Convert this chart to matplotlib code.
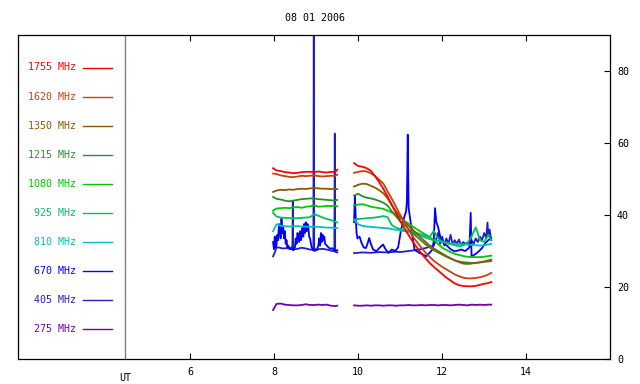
import numpy as np
import matplotlib
matplotlib.use("Agg")
from matplotlib import pyplot as plt

plt.rcParams['font.family'] = ['DejaVu Sans Mono']

title = "08 01 2006"
freqs = ["1755", "1620", "1350", "1215", "1080", "925", "810", "670", "405", "275"]
colors = ["#ff0000", "#c8400c", "#8b5a00", "#2e8b2e", "#00c800",
          "#00c060", "#00c0c0", "#0000ff", "#2020c0", "#7000b0"]

# common time grids (UT hours) for the smooth channels
t1 = [7.97, 8.05, 8.15, 8.25, 8.35, 8.45, 8.55, 8.65, 8.75, 8.85, 8.95,
      9.05, 9.15, 9.25, 9.35, 9.45, 9.5]
t2 = [9.9, 10.0, 10.1, 10.2, 10.3, 10.4, 10.5, 10.6, 10.7, 10.8, 10.9,
      11.0, 11.1, 11.2, 11.3, 11.4, 11.5, 11.6, 11.7, 11.8, 11.9, 12.0,
      12.1, 12.2, 12.3, 12.4, 12.5, 12.6, 12.7, 12.8, 12.9, 13.0, 13.1, 13.17]

f1755_a = [53.0, 52.4, 52.2, 51.9, 51.8, 51.6, 51.7, 51.9, 52.0, 52.0, 51.9, 52.1, 51.9, 51.8, 52.0, 51.9, 52.6]
f1755_b = [54.4, 53.6, 53.4, 53.0, 52.3, 50.8, 49.1, 47.2, 45.1, 42.8, 40.5, 38.3, 36.3, 34.4, 32.6, 30.9, 29.4,
           28.0, 26.7, 25.6, 24.6, 23.6, 22.6, 21.8, 21.0, 20.5, 20.3, 20.2, 20.2, 20.3, 20.6, 20.9, 21.1, 21.4]
f1620_a = [51.5, 51.4, 51.0, 50.8, 50.6, 50.5, 50.7, 50.9, 50.8, 50.9, 51.0, 50.8, 50.7, 50.8, 50.9, 50.9, 51.2]
f1620_b = [51.7, 52.0, 52.2, 52.1, 51.6, 50.8, 49.8, 48.7, 46.5, 44.5, 42.3, 40.0, 38.0, 36.0, 34.0, 32.5, 31.0,
           29.6, 28.4, 27.3, 26.4, 25.6, 24.9, 24.2, 23.5, 23.0, 22.6, 22.4, 22.4, 22.5, 22.7, 23.0, 23.5, 23.9]
f1350_a = [46.4, 46.8, 47.0, 46.9, 47.1, 47.0, 47.2, 47.3, 47.2, 47.4, 47.5, 47.4, 47.3, 47.3, 47.2, 47.3, 47.2]
f1350_b = [47.9, 48.4, 48.7, 48.6, 48.1, 47.6, 46.9, 46.0, 44.6, 42.7, 41.0, 39.5, 38.2, 37.0, 35.9, 34.8, 33.6,
           32.6, 31.5, 30.7, 30.0, 29.3, 28.6, 28.0, 27.4, 26.9, 26.5, 26.4, 26.5, 26.7, 26.9, 27.1, 27.4, 27.6]
f1215_a = [45.0, 44.5, 44.3, 44.0, 43.8, 44.0, 44.2, 44.4, 44.5, 44.6, 44.6, 44.4, 44.3, 44.2, 44.1, 44.0, 44.2]
f1215_b = [45.4, 45.9, 45.2, 44.8, 44.6, 44.3, 43.9, 43.4, 42.6, 41.0, 39.6, 38.3, 37.2, 36.1, 35.0, 33.9, 32.9,
           31.9, 31.0, 30.2, 29.6, 29.0, 28.4, 27.9, 27.4, 27.1, 26.9, 26.8, 26.7, 26.7, 26.8, 27.0, 27.1, 27.2]
f1080_a = [41.2, 41.8, 41.9, 42.0, 41.9, 42.1, 42.2, 42.0, 42.3, 42.4, 42.7, 42.3, 42.4, 42.5, 42.5, 42.6, 42.4]
f1080_b = [42.6, 42.9, 43.0, 42.7, 42.3, 42.1, 41.9, 41.7, 41.2, 40.7, 40.0, 39.2, 38.3, 37.6, 36.8, 36.0, 35.3,
           34.6, 33.8, 33.0, 32.0, 30.9, 30.3, 29.7, 29.2, 28.9, 28.6, 28.4, 28.3, 28.3, 28.3, 28.4, 28.6, 28.7]
f925_a = [40.6, 39.6, 39.3, 39.2, 39.2, 39.1, 39.1, 39.2, 39.3, 39.4, 40.2, 39.8, 39.3, 38.9, 38.6, 38.2, 37.9]
f925_b = [38.7, 38.9, 39.0, 39.1, 39.2, 39.3, 39.5, 39.7, 39.4, 37.2, 36.5, 36.1, 35.8, 35.6, 35.4, 35.0, 34.6,
          34.2, 33.9, 35.6, 33.5, 32.6, 32.2, 32.0, 31.6, 31.3, 31.6, 32.2, 34.0, 36.6, 33.0, 32.5, 34.5, 33.1]
f810_a = [35.5, 37.4, 37.0, 36.9, 36.8, 36.9, 36.9, 36.8, 36.8, 36.7, 36.8, 36.7, 36.6, 36.5, 36.5, 36.4, 36.4]
f810_b = [38.7, 37.4, 37.0, 36.8, 36.7, 36.6, 36.5, 36.4, 36.3, 36.1, 35.9, 35.7, 35.5, 35.3, 35.0, 34.6, 34.2,
          33.7, 33.3, 33.0, 32.8, 32.6, 32.3, 32.1, 32.0, 31.9, 31.8, 31.8, 31.7, 31.6, 31.5, 31.6, 31.8, 32.0]
f275_a = [13.6, 15.3, 15.4, 15.1, 15.0, 14.9, 14.9, 15.0, 15.2, 15.0, 15.0, 15.1, 15.0, 15.1, 14.8, 14.7, 14.8]
f275_b = [14.9, 14.8, 14.8, 14.9, 14.8, 14.9, 14.9, 14.8, 14.9, 14.9, 14.8, 14.9, 14.9, 15.0, 14.9, 14.9, 15.0,
          14.9, 15.0, 15.0, 14.9, 15.0, 15.0, 14.9, 15.0, 15.1, 15.0, 14.9, 15.1, 15.0, 15.1, 15.0, 15.1, 15.1]

# noisy channels have their own time stamps
t670_a = [7.97, 7.99, 8.01, 8.03, 8.05, 8.07, 8.09, 8.11, 8.13, 8.15, 8.17, 8.19, 8.21, 8.23, 8.25,
          8.27, 8.29, 8.31, 8.33, 8.37, 8.41, 8.45, 8.49, 8.51, 8.53, 8.55, 8.57, 8.59, 8.61, 8.63,
          8.65, 8.67, 8.69, 8.71, 8.73, 8.75, 8.77, 8.79, 8.81, 8.83, 8.85, 8.89, 8.93, 8.97, 9.01,
          9.05, 9.07, 9.09, 9.11, 9.13, 9.15, 9.17, 9.19, 9.21, 9.25, 9.29, 9.33, 9.37, 9.41, 9.45, 9.5]
f670_a = [32.5, 30.5, 34.0, 31.0, 31.5, 34.5, 33.0, 37.5, 36.5, 33.5, 39.0, 35.0, 37.0, 33.5, 35.5,
          32.0, 33.0, 31.0, 31.5, 30.5, 31.0, 30.2, 31.0, 33.5, 32.0, 35.0, 34.5, 32.5, 35.5, 33.0,
          34.0, 36.5, 34.0, 37.5, 35.0, 38.0, 35.5, 37.5, 36.5, 34.0, 33.5, 31.0, 30.2, 30.5, 30.3,
          31.5, 33.5, 31.5, 35.0, 32.5, 34.5, 33.0, 34.0, 32.0, 31.5, 31.0, 30.6, 30.8, 30.4, 30.0, 30.2]
t670_b = [9.9, 9.92, 9.94, 9.96, 9.98, 10.03, 10.08, 10.13, 10.18, 10.22, 10.26, 10.3, 10.35, 10.43,
          10.5, 10.59, 10.65, 10.72, 10.8, 10.88, 10.95, 11.02, 11.1, 11.14, 11.16, 11.18, 11.2, 11.24,
          11.3, 11.34, 11.45, 11.55, 11.62, 11.7, 11.77, 11.8, 11.83, 11.86, 11.9, 11.97, 12.05, 12.13,
          12.2, 12.3, 12.4, 12.45, 12.55, 12.65, 12.68, 12.7, 12.8, 12.87, 12.95, 13.03, 13.1, 13.17]
f670_b = [38.0, 45.2, 39.0, 35.0, 33.5, 34.0, 32.2, 31.0, 30.8, 32.0, 33.6, 32.0, 30.5, 29.9,
          30.8, 31.8, 30.5, 29.5, 30.4, 30.0, 31.0, 35.9, 39.6, 41.0, 44.0, 62.3, 42.0, 38.7,
          33.5, 30.4, 29.5, 29.0, 28.5, 29.5, 30.4, 33.0, 41.9, 38.0, 36.8, 33.1, 32.0, 31.3,
          30.5, 29.9, 30.2, 30.4, 30.0, 31.0, 40.6, 28.5, 29.2, 29.9, 30.8, 32.2, 33.0, 33.6]

t405_a = [7.97, 8.01, 8.05, 8.1, 8.2, 8.3, 8.4, 8.43, 8.44, 8.45, 8.55, 8.65, 8.75, 8.85, 8.93,
          8.94, 8.95, 9.05, 9.15, 9.25, 9.35, 9.43, 9.44, 9.45, 9.5]
f405_a = [28.5, 29.6, 30.9, 31.0, 30.7, 30.8, 30.5, 30.6, 43.8, 30.4, 30.6, 30.9, 30.7, 30.4, 30.3,
          95.0, 30.0, 30.5, 30.6, 30.4, 30.1, 29.9, 62.6, 29.8, 29.6]
t405_b = [9.9, 10.1, 10.3, 10.5, 10.7, 10.9, 11.0, 11.2, 11.4, 11.6, 11.8, 11.85, 11.9, 11.95, 12.0,
          12.05, 12.1, 12.15, 12.2, 12.25, 12.3, 12.35, 12.4, 12.45, 12.5, 12.55, 12.6, 12.65, 12.7,
          12.75, 12.8, 12.85, 12.9, 12.95, 13.0, 13.05, 13.08, 13.1, 13.13, 13.17]
f405_b = [29.4, 29.6, 29.5, 29.7, 29.6, 29.8, 29.7, 30.0, 30.3, 30.8, 31.5, 33.0, 35.0, 32.0, 34.0,
          31.5, 33.5, 32.0, 34.5, 31.8, 33.0, 32.0, 33.2, 31.5, 32.5, 32.0, 32.3, 31.5, 33.0,
          32.0, 33.5, 32.5, 34.0, 33.0, 35.0, 33.5, 37.9, 34.0, 36.0, 33.0]

series = {
    "1755": (t1, f1755_a, t2, f1755_b),
    "1620": (t1, f1620_a, t2, f1620_b),
    "1350": (t1, f1350_a, t2, f1350_b),
    "1215": (t1, f1215_a, t2, f1215_b),
    "1080": (t1, f1080_a, t2, f1080_b),
    "925": (t1, f925_a, t2, f925_b),
    "810": (t1, f810_a, t2, f810_b),
    "670": (t670_a, f670_a, t670_b, f670_b),
    "405": (t405_a, f405_a, t405_b, f405_b),
    "275": (t1, f275_a, t2, f275_b),
}

fig = plt.figure(figsize=(6.4, 3.84), dpi=100)
ax = fig.add_axes([18/640, 1 - 359/384, 592/640, 324/384])

# draw bottom channels first so the top ones stay visible
for name, col in reversed(list(zip(freqs, colors))):
    ta, va, tb, vb = series[name]
    ax.plot(ta, va, color=col, lw=1.3)
    ax.plot(tb, vb, color=col, lw=1.3)

ax.axvline(4.44, color="#808080", lw=1.0)

ax.set_xlim(1.89, 16.0)
ax.set_ylim(0, 90)
ax.set_xticks([6, 8, 10, 12, 14])
ax.set_yticks([0, 20, 40, 60, 80])
ax.yaxis.tick_right()
ax.tick_params(axis="both", direction="in", length=4, width=0.8, labelsize=7.2, colors="black")
ax.tick_params(axis="x", top=True, bottom=True, pad=6)
ax.tick_params(axis="y", right=True, left=False, pad=5)
for s in ax.spines.values():
    s.set_linewidth(0.9)

ax.text(4.44, -4.0, "UT", ha="center", va="top", fontsize=7.2)
fig.text(315/640, 1 - 18/384, title, ha="center", va="center", fontsize=7.2)

# legend built by hand in the left margin
for i, (name, col) in enumerate(zip(freqs, colors)):
    yy = 1 - (67.5 + 29.1 * i) / 384
    fig.text(76/640, yy, name + " MHz", color=col, ha="right", va="center", fontsize=7.2)
    fig.add_artist(plt.Line2D([83/640, 112/640], [yy, yy], color=col, lw=1.0,
                              transform=fig.transFigure))

plt.savefig("out.png", dpi=100)
